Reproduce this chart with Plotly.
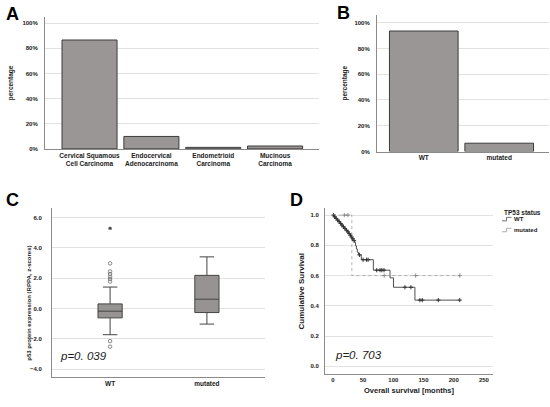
import numpy as np
import plotly.graph_objects as go

W, H = 550, 407
FONT = "Liberation Sans, Arial, sans-serif"

# ---------------- data ----------------
histo_cats = ["Cervical Squamous<br>Cell Carcinoma", "Endocervical<br>Adenocarcinoma",
              "Endometrioid<br>Carcinoma", "Mucinous<br>Carcinoma"]
histo_pct = [86.6, 9.9, 1.2, 2.3]

tp53_cats = ["WT", "mutated"]
tp53_pct = [93.5, 6.5]

pct_ticks = [0, 20, 40, 60, 80, 100]
pct_labels = ["0%", "20%", "40%", "60%", "80%", "100%"]

box_groups = ["WT", "mutated"]
box_q1 = [-0.61, -0.26]
box_median = [-0.17, 0.62]
box_q3 = [0.31, 2.19]
box_lower = [-1.72, -1.02]
box_upper = [1.42, 3.41]
wt_outliers = [2.98, 2.45, 2.28, 2.10, 1.95, 1.78, -2.14, -2.51]
wt_extreme = [5.29]
z_ticks = [-4, -2, 0, 2, 4, 6]

wt_event_t = [2, 4.5, 7, 9.5, 12, 14, 16.5, 19, 21.5, 24, 26, 28, 30, 32, 34, 36,
              37.5, 39, 40.5, 42.5, 47, 67, 94.6, 100.3, 135.8]
wt_event_s = [0.989, 0.978, 0.967, 0.956, 0.945, 0.934, 0.923, 0.912, 0.900, 0.889,
              0.878, 0.867, 0.855, 0.843, 0.831, 0.819, 0.797, 0.776, 0.755, 0.737,
              0.705, 0.636, 0.585, 0.523, 0.438]
wt_censor_t = [1, 3, 5.5, 8, 10.5, 13, 15, 17.5, 20, 22.5, 25, 27, 29, 31, 33, 35,
               44, 50, 55.6, 58.3, 72.6, 78, 81, 84.6, 119.3, 129.2, 144, 148, 174.5, 210]
mut_event_t = [31.4]
mut_event_s = [0.6]
mut_censor_t = [19, 25, 85, 137, 210]
os_ticks = [0, 50, 100, 150, 200, 250]
surv_ticks = [0.0, 0.2, 0.4, 0.6, 0.8, 1.0]

# ---------------- helpers ----------------
def px_x(a, b):
    return [a / W, b / W]

def px_y(top, bottom):
    return [1 - bottom / H, 1 - top / H]

def km_curve(ev_t, ev_s, end_t):
    t = [0] + list(ev_t) + [end_t]
    s = [1.0] + list(ev_s) + [ev_s[-1]]
    return t, s

def km_at(ev_t, ev_s, times):
    ev_t = np.asarray(ev_t)
    ev_s = np.asarray(ev_s)
    idx = np.searchsorted(ev_t, np.asarray(times), side="right") - 1
    return [1.0 if i < 0 else float(ev_s[i]) for i in idx]

BAR_FILL = "#9a9695"
BAR_LINE = "#3c3c3c"
GRID = "#e2e2e2"
AXL = "#8a8a8a"
TXT = "#1a1a1a"
bold_small = dict(family=FONT, size=6, color=TXT, weight="bold")
bold_med = dict(family=FONT, size=6.5, color=TXT, weight="bold")

fig = go.Figure()

# ---------------- A ----------------
fig.add_trace(go.Bar(x=histo_cats, y=histo_pct, width=0.89, marker=dict(color=BAR_FILL,
              line=dict(color=BAR_LINE, width=1)), xaxis="x", yaxis="y", showlegend=False))
# ---------------- B ----------------
fig.add_trace(go.Bar(x=tp53_cats, y=tp53_pct, width=0.91, marker=dict(color=BAR_FILL,
              line=dict(color=BAR_LINE, width=1)), xaxis="x2", yaxis="y2", showlegend=False))
# ---------------- C ----------------
fig.add_trace(go.Box(x=box_groups, q1=box_q1, median=box_median, q3=box_q3,
                     lowerfence=box_lower, upperfence=box_upper, boxpoints=False,
                     width=0.25, whiskerwidth=0.6, fillcolor="#979393",
                     line=dict(color="#444444", width=1),
                     xaxis="x3", yaxis="y3", showlegend=False))
fig.add_trace(go.Scatter(x=["WT"] * len(wt_outliers), y=wt_outliers, mode="markers",
                         marker=dict(symbol="circle-open", size=3.5, color="#6a6a6a",
                                     line=dict(width=0.8)),
                         xaxis="x3", yaxis="y3", showlegend=False))
fig.add_trace(go.Scatter(x=["WT"] * len(wt_extreme), y=wt_extreme, mode="markers",
                         marker=dict(symbol="asterisk-open", size=3, color="#444444",
                                     line=dict(width=1, color="#444444")),
                         xaxis="x3", yaxis="y3", showlegend=False))
# ---------------- D ----------------
mt, ms = km_curve(mut_event_t, mut_event_s, max(mut_censor_t))
fig.add_trace(go.Scatter(x=mt, y=ms, mode="lines", line=dict(color="#a0a0a0", width=0.8, dash="dot",
                         shape="hv"), xaxis="x4", yaxis="y4", showlegend=False))
fig.add_trace(go.Scatter(x=mut_censor_t, y=km_at(mut_event_t, mut_event_s, mut_censor_t),
                         mode="markers", marker=dict(symbol="cross-thin", size=3,
                         line=dict(color="#777777", width=0.8)), xaxis="x4", yaxis="y4",
                         showlegend=False))
wt_t, wt_s = km_curve(wt_event_t, wt_event_s, max(wt_censor_t))
fig.add_trace(go.Scatter(x=wt_t, y=wt_s, mode="lines", line=dict(color="#505050", width=1,
                         shape="hv"), xaxis="x4", yaxis="y4", showlegend=False))
fig.add_trace(go.Scatter(x=wt_censor_t, y=km_at(wt_event_t, wt_event_s, wt_censor_t),
                         mode="markers", marker=dict(symbol="cross-thin", size=3,
                         line=dict(color="#333333", width=1)), xaxis="x4", yaxis="y4",
                         showlegend=False))

common_x = dict(showgrid=False, zeroline=False, showline=True, linecolor=AXL, linewidth=1,
                ticks="", fixedrange=True, tickangle=0)
common_y = dict(showgrid=True, gridcolor=GRID, gridwidth=1, zeroline=False, showline=True,
                linecolor=AXL, linewidth=1, ticks="", fixedrange=True)

fig.update_layout(
    width=W, height=H, margin=dict(l=0, r=0, t=0, b=0),
    paper_bgcolor="white", plot_bgcolor="white",
    font=dict(family=FONT, color=TXT),
    xaxis=dict(common_x, domain=px_x(45, 319), range=[-0.72, 3.71], tickfont=bold_med,
               anchor="y"),
    yaxis=dict(common_y, domain=px_y(17, 150), range=[0, 105], tickvals=pct_ticks,
               ticktext=pct_labels, tickfont=bold_small, ticklabelstandoff=5, anchor="x",
               title=dict(text="percentage", font=bold_med, standoff=8)),
    xaxis2=dict(common_x, domain=px_x(377, 549), range=[-0.62, 1.66], tickfont=bold_med,
                anchor="y2"),
    yaxis2=dict(common_y, domain=px_y(15, 152.7), range=[0, 106], tickvals=pct_ticks,
                ticktext=pct_labels, tickfont=bold_small, ticklabelstandoff=5, anchor="x2",
                title=dict(text="percentage", font=bold_med, standoff=6)),
    xaxis3=dict(common_x, domain=px_x(52, 265), range=[-0.6, 1.6], tickfont=bold_med,
                anchor="y3", categoryorder="array", categoryarray=box_groups),
    yaxis3=dict(common_y, domain=px_y(210, 380), range=[-4.52, 6.6], tickvals=z_ticks,
                tickformat=".1f", tickfont=bold_small, ticklabelstandoff=8, anchor="x3"),
    xaxis4=dict(common_x, domain=px_x(325, 493), range=[-13, 265], tickvals=os_ticks,
                tickfont=bold_small, anchor="y4",
                title=dict(text="Overall survival [months]",
                           font=dict(family=FONT, size=7.5, color=TXT, weight="bold"),
                           standoff=5)),
    yaxis4=dict(common_y, domain=px_y(210, 376.7), range=[-0.05, 1.044], tickvals=surv_ticks,
                tickformat=".1f", tickfont=bold_small, ticklabelstandoff=4, anchor="x4",
                title=dict(text="Cumulative Survival",
                           font=dict(family=FONT, size=8, color=TXT, weight="bold"),
                           standoff=4)),
)

ann = []
for lab, cx, cy in [("A", 12.5, 14), ("B", 343.5, 13), ("C", 12.5, 201), ("D", 296.5, 201)]:
    ann.append(dict(text=lab, x=cx / W, y=1 - cy / H, xref="paper", yref="paper",
                    showarrow=False, xanchor="center", yanchor="middle",
                    font=dict(family=FONT, size=18, color="black", weight="bold")))
ann.append(dict(text="p53 protein expression (RPPA, z-scores)", x=29 / W, y=1 - 306 / H,
                xref="paper", yref="paper", showarrow=False, textangle=-90,
                xanchor="center", yanchor="middle", font=bold_small))
for txt, lx, cy in [("p=0. 039", 58, 359), ("p=0. 703", 333, 358)]:
    ann.append(dict(text=txt, x=lx / W, y=1 - cy / H, xref="paper", yref="paper",
                    showarrow=False, xanchor="left", yanchor="middle",
                    font=dict(family=FONT, size=11.5, color=TXT, style="italic")))
ann.append(dict(text="TP53 status", x=501.5 / W, y=1 - 214 / H, xref="paper", yref="paper",
                showarrow=False, xanchor="left", yanchor="middle",
                font=dict(family=FONT, size=6.5, color=TXT, weight="bold")))
for txt, cy in [("WT", 221), ("mutated", 232)]:
    ann.append(dict(text=txt, x=511.5 / W, y=1 - cy / H, xref="paper", yref="paper",
                    showarrow=False, xanchor="left", yanchor="middle", font=bold_small))
fig.update_layout(annotations=ann)

# legend glyphs (small step icons)
shapes = []
for cy, col in [(221, "#505050"), (232, "#9a9a9a")]:
    x0, x1, x2 = 502 / W, 506.5 / W, 511.5 / W
    ylo, yhi = 1 - (cy + 1.5) / H, 1 - (cy - 2) / H
    shapes.append(dict(type="path", xref="paper", yref="paper",
                       path=f"M {x0},{ylo} L {x1},{ylo} L {x1},{yhi} L {x2},{yhi}",
                       line=dict(color=col, width=0.8)))
fig.update_layout(shapes=shapes)

fig.write_html("out.html", config={"displayModeBar": False},
               post_script="document.body.style.margin='0';document.body.style.padding='0';")
